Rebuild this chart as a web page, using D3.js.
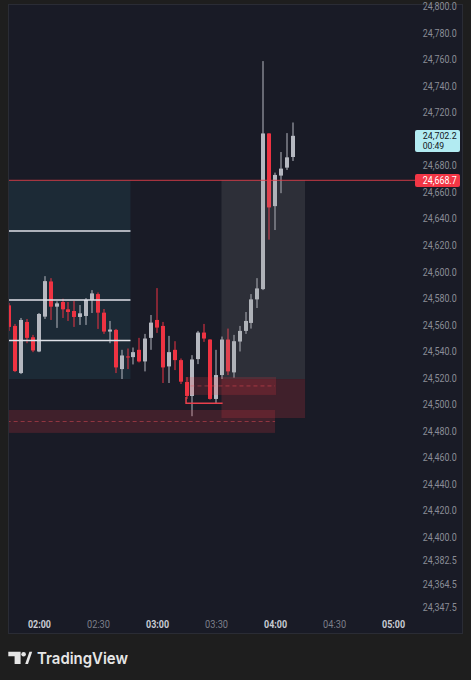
<!DOCTYPE html>
<html><head><meta charset="utf-8">
<script src="https://cdn.jsdelivr.net/npm/d3@7"></script>
<style>html,body{margin:0;padding:0;background:#1e1e1e;}svg{display:block}</style>
</head><body>
<svg id="c" width="471" height="680"></svg>
<script>
// ---------- data ----------
const times = ["01:45","01:48","01:51","01:54","01:57","02:00","02:03","02:06","02:09","02:12",
  "02:15","02:18","02:21","02:24","02:27","02:30","02:33","02:36","02:39","02:42",
  "02:45","02:48","02:51","02:54","02:57","03:00","03:03","03:06","03:09","03:12",
  "03:15","03:18","03:21","03:24","03:27","03:30","03:33","03:36","03:39","03:42",
  "03:45","03:48","03:51","03:54","03:57","04:00","04:03","04:06","04:09"];
const opens  = [24574.5,24559.0,24523.5,24562.0,24550.5,24539.75,24566.0,24592.5,24573.5,24577.0,
  24571.5,24570.25,24565.75,24566.5,24578.5,24583.0,24569.0,24554.75,24556.0,24526.5,
  24536.0,24535.5,24541.0,24532.25,24550.0,24563.5,24559.0,24528.5,24541.0,24533.25,
  24516.75,24506.25,24534.0,24554.0,24548.75,24504.0,24522.0,24548.75,24524.0,24547.25,
  24555.25,24561.25,24579.0,24586.75,24704.0,24649.25,24672.25,24678.25,24686.25];
const highs  = [24576.25,24560.5,24565.0,24564.25,24552.25,24568.75,24596.5,24595.0,24577.5,24579.5,
  24577.0,24577.75,24574.75,24580.0,24586.0,24584.25,24571.75,24562.75,24556.75,24541.0,
  24542.0,24542.75,24550.0,24553.0,24567.25,24587.5,24562.0,24551.5,24547.5,24534.5,
  24520.5,24537.0,24555.25,24560.5,24549.0,24541.0,24551.0,24557.0,24552.25,24559.0,
  24569.5,24583.0,24595.0,24758.5,24704.25,24674.5,24690.0,24704.25,24712.25];
const lows   = [24555.25,24524.25,24522.75,24546.0,24539.25,24539.25,24564.25,24563.5,24557.5,24565.0,
  24562.75,24558.25,24559.75,24559.75,24568.75,24556.75,24553.0,24546.0,24523.5,24519.0,
  24526.5,24530.0,24531.5,24524.75,24541.0,24553.75,24516.0,24516.0,24525.75,24515.25,
  24504.0,24491.0,24530.25,24547.0,24503.5,24500.25,24519.0,24522.0,24520.0,24539.75,
  24553.0,24557.0,24572.5,24586.0,24624.0,24631.25,24659.0,24676.5,24683.25];
const closes = [24558.25,24525.0,24563.5,24550.0,24540.5,24568.0,24592.75,24573.5,24576.0,24571.5,
  24569.5,24565.75,24568.5,24578.5,24583.5,24569.0,24554.75,24556.25,24527.75,24536.75,
  24535.25,24539.25,24532.25,24549.5,24561.5,24557.75,24527.75,24539.25,24533.25,24517.0,
  24506.25,24533.75,24554.0,24549.5,24504.0,24522.0,24548.75,24524.75,24547.5,24555.25,
  24562.75,24579.0,24587.25,24704.0,24648.25,24672.75,24677.5,24686.0,24702.2];

// 24,700.0 is hidden behind the live price label in the reference
const priceTicks = [24800,24780,24760,24740,24720,24680,24660,24640,24620,24600,24580,
  24560,24540,24520,24500,24480,24460,24440,24420,24400,24382.5,24364.5,24347.5];
const timeTicks = ["02:00","02:30","03:00","03:30","04:00","04:30","05:00"];
const timeDomain = ["01:44:15","05:08:35"];
const priceDomain = [24400, 24800];

const lastPrice = 24702.2;
const countdown = "00:49";
const levelPrice = 24668.7;
const levelLines = [24630.5, 24578.5, 24548.0];
const levelLinesSpan = ["01:40","02:46:30"];

const tealBox  = ["01:40","02:46:30",24668.7,24519.0];
const greyBox  = ["03:32:45","04:15:15",24668.7,24519.0];
const redBoxes = [
  ["03:14:30","04:00:30",24520.5,24507.0],
  ["03:32:45","04:15:15",24519.0,24489.6],
  ["01:40","04:00",24495.7,24478.4]
];
const dashedLines = [["03:17","04:00",24513.8],["01:40","04:00",24487.0]];
const bracket = [["03:14:45",24505.5],["03:14:45",24500.7],["03:33:20",24500.7]];

// ---------- scales ----------
const T = s => { const p = s.split(":").map(Number); return new Date(2024,0,1,p[0],p[1],p[2]||0); };
const x = d3.scaleTime().domain(timeDomain.map(T)).range([8, 410]);
const y = d3.scaleLinear().domain(priceDomain).range([537, 6]);

const svg = d3.select("#c");
svg.append("rect").attr("width",471).attr("height",680).attr("fill","#1e1e1e");
svg.append("rect").attr("x",8.5).attr("y",4.5).attr("width",454).attr("height",629)
  .attr("fill","#191b26").attr("stroke","#2a2c35");

svg.append("defs").append("clipPath").attr("id","plot")
  .append("rect").attr("x",9).attr("y",5).attr("width",406).attr("height",605);
const g = svg.append("g").attr("clip-path","url(#plot)");

function box(b, fill){
  g.append("rect").attr("x",x(T(b[0]))).attr("y",y(b[2]))
    .attr("width",x(T(b[1]))-x(T(b[0]))).attr("height",y(b[3])-y(b[2])).attr("fill",fill);
}
box(tealBox, "#1c2a36");

// candles
const candles = times.map((t,i)=>({t:T(t),o:opens[i],h:highs[i],l:lows[i],c:closes[i]}));
const up = "#b5b8c0", dn = "#ee3342";
const cg = g.append("g");
cg.selectAll(".w").data(candles).join("rect")
  .attr("x",d=>Math.round(x(d.t)-2)+1.5).attr("width",1)
  .attr("y",d=>y(d.h)).attr("height",d=>Math.max(1,y(d.l)-y(d.h)))
  .attr("fill",d=>d.c>=d.o?up:dn);
cg.selectAll(".b").data(candles).join("rect")
  .attr("x",d=>Math.round(x(d.t)-2)).attr("width",4)
  .attr("y",d=>y(Math.max(d.o,d.c))).attr("height",d=>Math.max(1,Math.abs(y(d.o)-y(d.c))))
  .attr("fill",d=>d.c>=d.o?up:dn);

// level lines (white)
g.selectAll(".lv").data(levelLines).join("line")
  .attr("x1",x(T(levelLinesSpan[0]))).attr("x2",x(T(levelLinesSpan[1])))
  .attr("y1",d=>y(d)).attr("y2",d=>y(d)).attr("stroke","#dfe1e8").attr("stroke-width",1.6);

// overlays
box(greyBox, "rgba(150,148,150,0.17)");
redBoxes.forEach(b=>box(b,"rgba(242,54,69,0.18)"));
dashedLines.forEach(d=>{
  g.append("line").attr("x1",x(T(d[0]))).attr("x2",x(T(d[1]))).attr("y1",y(d[2])).attr("y2",y(d[2]))
   .attr("stroke","rgba(242,80,90,0.45)").attr("stroke-width",1).attr("stroke-dasharray","4,3");
});
g.append("path").attr("d",d3.line().x(d=>x(T(d[0]))).y(d=>y(d[1]))(bracket))
  .attr("fill","none").attr("stroke","#e8404c").attr("stroke-width",1.5);

// red level line
g.append("line").attr("x1",8).attr("x2",415).attr("y1",y(levelPrice)).attr("y2",y(levelPrice))
  .attr("stroke","#e8404c").attr("stroke-width",1).attr("opacity",0.85);

// ---------- axes ----------
const yAxis = d3.axisRight(y).tickValues(priceTicks).tickSize(0).tickFormat(d3.format(",.1f"));
const ya = svg.append("g").attr("transform","translate(456.7,0)").call(yAxis);
ya.select(".domain").remove();
ya.selectAll("text").attr("x",0).attr("dy","0.35em").attr("text-anchor","end")
  .attr("fill","#8a8d96").attr("font-family","Roboto, sans-serif").attr("font-size",10)
  .attr("textLength",34).attr("lengthAdjust","spacingAndGlyphs");

const xAxis = d3.axisBottom(x).tickValues(timeTicks.map(T)).tickSize(0).tickFormat(d3.timeFormat("%H:%M"));
const xa = svg.append("g").attr("transform","translate(0,624)").call(xAxis);
xa.select(".domain").remove();
xa.selectAll("text").attr("y",0).attr("dy","0.35em")
  .attr("font-family","Roboto, sans-serif").attr("font-size",10)
  .attr("textLength",23).attr("lengthAdjust","spacingAndGlyphs")
  .attr("font-weight",d=>d.getMinutes()===0?700:400)
  .attr("fill",d=>d.getMinutes()===0?"#c9ccd4":"#7c7f89");

// price labels
const yl = y(lastPrice);
svg.append("rect").attr("x",415).attr("y",yl-5.8).attr("width",45).attr("height",22).attr("rx",2).attr("fill","#b2ebf2");
svg.append("text").attr("x",422.7).attr("y",yl-0.3).attr("dy","0.35em").text(d3.format(",.1f")(lastPrice))
  .attr("fill","#131722").attr("font-family","Roboto, sans-serif").attr("font-size",9)
  .attr("textLength",34).attr("lengthAdjust","spacingAndGlyphs");
svg.append("text").attr("x",422.7).attr("y",yl+10.4).attr("dy","0.35em").text(countdown)
  .attr("fill","#131722").attr("font-family","Roboto, sans-serif").attr("font-size",9)
  .attr("textLength",21.5).attr("lengthAdjust","spacingAndGlyphs");

const yr = y(levelPrice);
svg.append("rect").attr("x",415).attr("y",yr-6.3).attr("width",45).attr("height",13).attr("rx",2).attr("fill","#f23645");
svg.append("text").attr("x",422.7).attr("y",yr+0.2).attr("dy","0.35em").text(d3.format(",.1f")(levelPrice))
  .attr("fill","#ffffff").attr("font-family","Roboto, sans-serif").attr("font-size",10)
  .attr("textLength",34).attr("lengthAdjust","spacingAndGlyphs");

// ---------- TradingView logo ----------
const logo = svg.append("g").attr("fill","#e6e6e6");
logo.append("path").attr("d","M8.3,651.8 H20.6 V664 H14.6 V656.2 H8.3 Z");
logo.append("circle").attr("cx",23.6).attr("cy",654.2).attr("r",2.3);
logo.append("path").attr("d","M25.2,664 L29.4,651.8 H32.2 L28,664 Z");
svg.append("text").attr("x",37).attr("y",658).attr("dy","0.35em").text("TradingView")
  .attr("fill","#e6e6e6").attr("font-family","Inter, Roboto, sans-serif").attr("font-weight",600)
  .attr("font-size",16.5).attr("textLength",91).attr("lengthAdjust","spacingAndGlyphs");
</script>
</body></html>
